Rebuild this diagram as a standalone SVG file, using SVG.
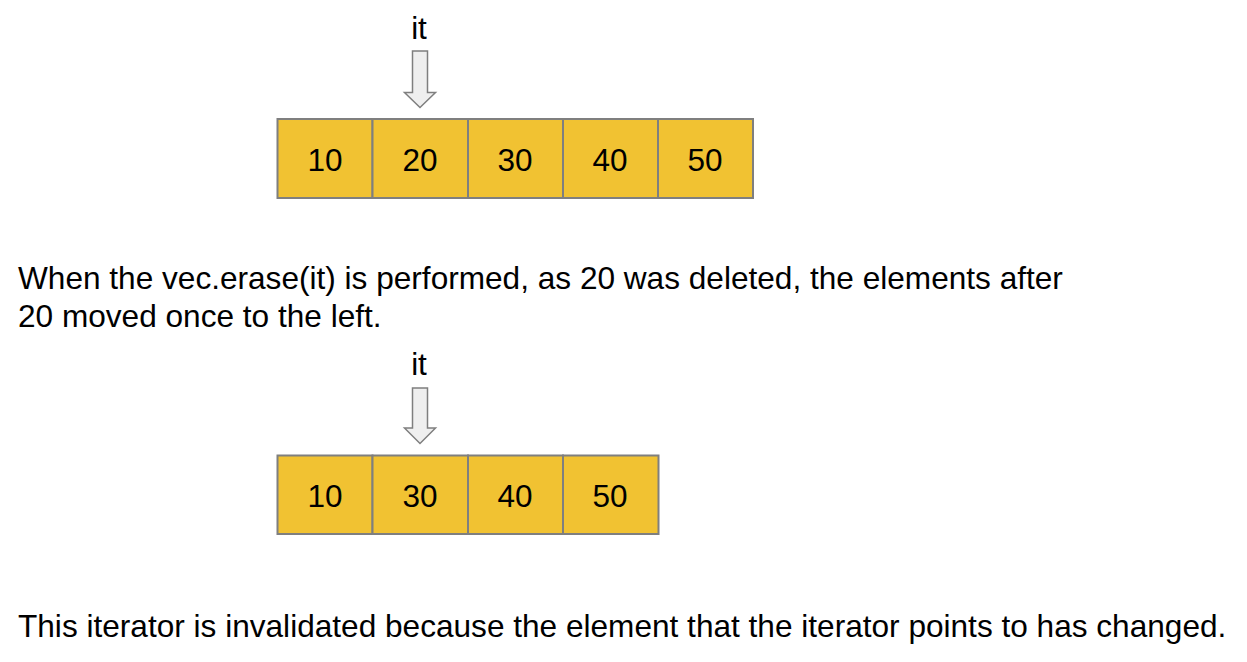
<svg xmlns="http://www.w3.org/2000/svg" width="1247" height="662" viewBox="0 0 1247 662">
<style>
.cell{fill:#f1c232;stroke:#7f7f7f;stroke-width:2}
.num{font-family:"Liberation Sans",Arial,sans-serif;font-size:31.5px;fill:#000;text-anchor:middle}
.txt{font-family:"Liberation Sans",Arial,sans-serif;font-size:31.6px;fill:#000}
.lbl{font-family:"Liberation Sans",Arial,sans-serif;font-size:31.5px;fill:#000;text-anchor:middle}
.arr{fill:#efefef;stroke:#7f7f7f;stroke-width:1.5;stroke-linejoin:miter}
</style>
<rect width="1247" height="662" fill="#fff"/>
<g id="array1">
<g id="a1c1"><rect class="cell" x="277.5" y="119" width="95" height="79"/><text class="num" x="325" y="171">10</text></g>
<g id="a1c2"><rect class="cell" x="372.5" y="119" width="95.5" height="79"/><text class="num" x="420" y="171">20</text></g>
<g id="a1c3"><rect class="cell" x="468" y="119" width="95" height="79"/><text class="num" x="515" y="171">30</text></g>
<g id="a1c4"><rect class="cell" x="563" y="119" width="95" height="79"/><text class="num" x="610" y="171">40</text></g>
<g id="a1c5"><rect class="cell" x="658" y="119" width="95" height="79"/><text class="num" x="705" y="171">50</text></g>
</g>
<g id="it1">
<text class="lbl" x="419" y="39">it</text>
<path class="arr" d="M412.5,51 H427.5 V92.5 H435.5 L420,107.5 L404.5,92.5 H412.5 Z"/>
</g>
<g id="array2">
<g id="a2c1"><rect class="cell" x="277.5" y="455.5" width="95" height="78.5"/><text class="num" x="325" y="507">10</text></g>
<g id="a2c2"><rect class="cell" x="372.5" y="455.5" width="95.5" height="78.5"/><text class="num" x="420" y="507">30</text></g>
<g id="a2c3"><rect class="cell" x="468" y="455.5" width="95" height="78.5"/><text class="num" x="515" y="507">40</text></g>
<g id="a2c4"><rect class="cell" x="563" y="455.5" width="95.5" height="78.5"/><text class="num" x="610" y="507">50</text></g>
</g>
<g id="it2">
<text class="lbl" x="419" y="375">it</text>
<path class="arr" d="M412.5,388 H427.5 V428 H435.5 L420,443.5 L404.5,428 H412.5 Z"/>
</g>
<g id="texts">
<text class="txt" x="18" y="289">When the vec.erase(it) is performed, as 20 was deleted, the elements after</text>
<text class="txt" x="18" y="327">20 moved once to the left.</text>
<text class="txt" x="18" y="637">This iterator is invalidated because the element that the iterator points to has changed.</text>
</g>
<g id="connectors"></g>
</svg>
